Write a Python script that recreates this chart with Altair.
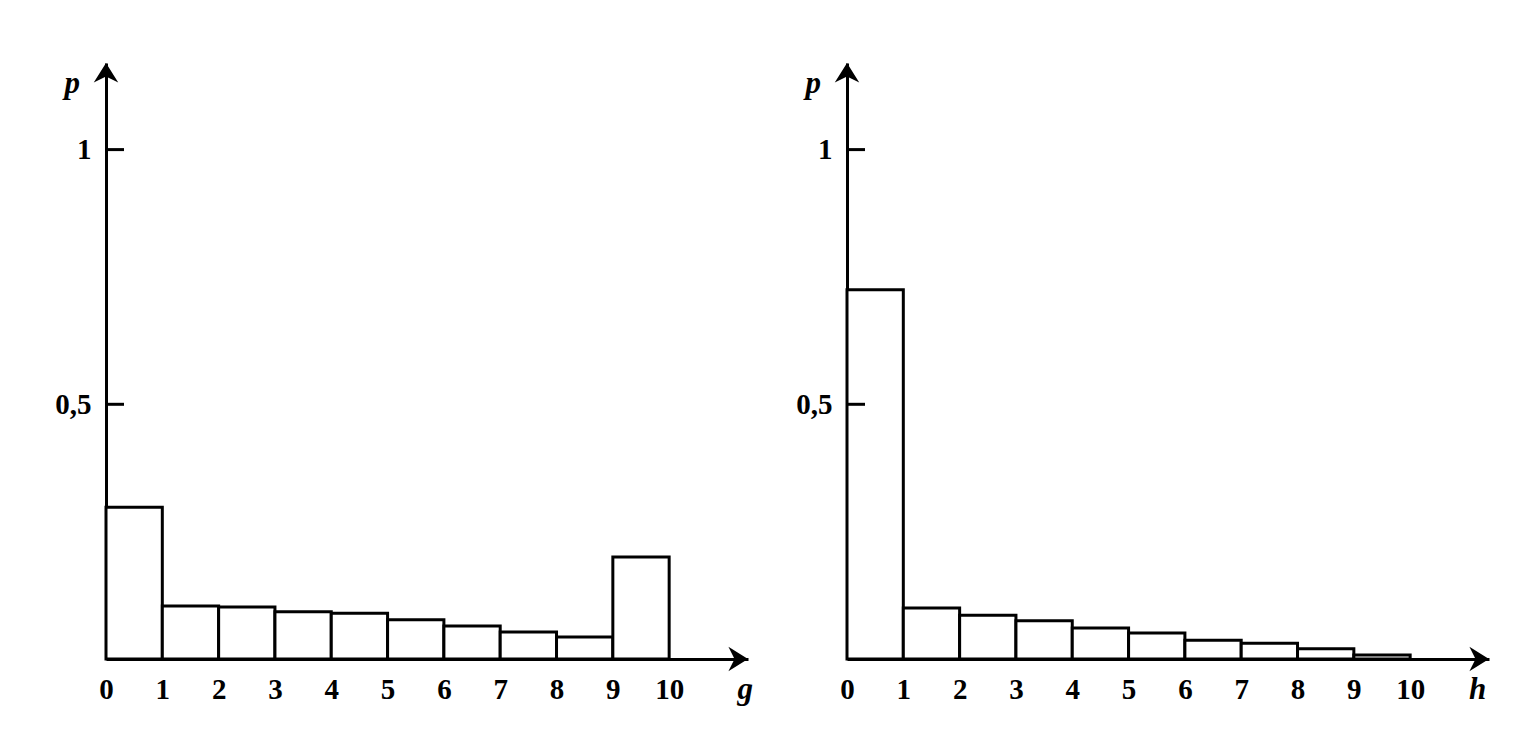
import altair as alt
import pandas as pd

# ---- data ----
bin_start = [0, 1, 2, 3, 4, 5, 6, 7, 8, 9]
bin_end = [1, 2, 3, 4, 5, 6, 7, 8, 9, 10]
g_probs = [0.298, 0.104, 0.102, 0.093, 0.090, 0.077, 0.065, 0.053, 0.043, 0.200]
h_probs = [0.725, 0.100, 0.086, 0.075, 0.061, 0.051, 0.037, 0.031, 0.020, 0.008]
x_tick_values = [0, 1, 2, 3, 4, 5, 6, 7, 8, 9, 10]
y_tick_values = [0.5, 1.0]
y_tick_labels = ["0,5", "1"]
y_axis_name = "p"
x_axis_names = ["g", "h"]

FONT = "Liberation Serif"
X_MAX = 11.4
Y_MAX = 1.17
W = 642
H = 596

RIGHT_ARROW = "M -1.6 -1 L 0 0 L -1.6 1 L -1.1 0 Z"
UP_ARROW = "M -1 1.6 L 0 0 L 1 1.6 L 0 1.1 Z"


def label_expr():
    expr = "''"
    for v, lab in zip(reversed(y_tick_values), reversed(y_tick_labels)):
        expr = f"abs(datum.value - {v}) < 1e-6 ? '{lab}' : ({expr})"
    return expr


def panel(probs, xname, xname_pos):
    xs = alt.Scale(domain=[0, X_MAX], nice=False, zero=False)
    ys = alt.Scale(domain=[0, Y_MAX], nice=False, zero=False)

    bars = pd.DataFrame({"x0": bin_start, "x1": bin_end, "p": probs,
                         "base": [0] * len(probs)})
    rect = alt.Chart(bars).mark_rect(
        fill="white", stroke="black", strokeWidth=3, strokeJoin="miter"
    ).encode(
        x=alt.X("x0:Q", scale=xs, axis=alt.Axis(
            values=x_tick_values, title=None, ticks=False, grid=False,
            domainWidth=3, domainColor="black", format="d",
            labelFont=FONT, labelFontSize=29, labelFontWeight="bold",
            labelColor="black", labelPadding=16, labelFlush=False)),
        x2="x1:Q",
        y=alt.Y("p:Q", scale=ys, axis=alt.Axis(
            values=y_tick_values, title=None, ticks=False, grid=False,
            domainWidth=3, domainColor="black", labelExpr=label_expr(),
            labelFont=FONT, labelFontSize=29, labelFontWeight="bold",
            labelColor="black", labelPadding=15)),
        y2="base:Q",
    )

    ticks_df = pd.DataFrame({"y": y_tick_values, "x0": [0] * len(y_tick_values),
                             "x1": [0.32] * len(y_tick_values)})
    ticks = alt.Chart(ticks_df).mark_rule(color="black", strokeWidth=3).encode(
        x=alt.X("x0:Q", scale=xs), x2="x1:Q", y=alt.Y("y:Q", scale=ys))

    arr_r = alt.Chart(pd.DataFrame({"x": [X_MAX], "y": [0]})).mark_point(
        shape=RIGHT_ARROW, size=600, filled=True, color="black", opacity=1
    ).encode(x=alt.X("x:Q", scale=xs), y=alt.Y("y:Q", scale=ys))
    arr_u = alt.Chart(pd.DataFrame({"x": [0], "y": [Y_MAX]})).mark_point(
        shape=UP_ARROW, size=600, filled=True, color="black", opacity=1
    ).encode(x=alt.X("x:Q", scale=xs), y=alt.Y("y:Q", scale=ys))

    names = pd.DataFrame({"x": [-0.6, xname_pos], "y": [1.128, -0.06],
                          "t": [y_axis_name, xname]})
    txt = alt.Chart(names).mark_text(
        font=FONT, fontSize=31, fontStyle="italic", fontWeight="bold",
        color="black", align="center", baseline="middle"
    ).encode(x=alt.X("x:Q", scale=xs), y=alt.Y("y:Q", scale=ys), text="t:N")

    return alt.layer(rect, ticks, arr_r, arr_u, txt).properties(width=W, height=H)


chart = alt.hconcat(
    panel(g_probs, x_axis_names[0], 11.35),
    panel(h_probs, x_axis_names[1], 11.2),
    spacing=42,
).properties(
    padding={"left": 46, "top": 55, "right": 5, "bottom": 5},
    background="white",
).configure_view(stroke=None, strokeWidth=0)

chart.save("out.html", embed_options={"renderer": "svg", "actions": False})
